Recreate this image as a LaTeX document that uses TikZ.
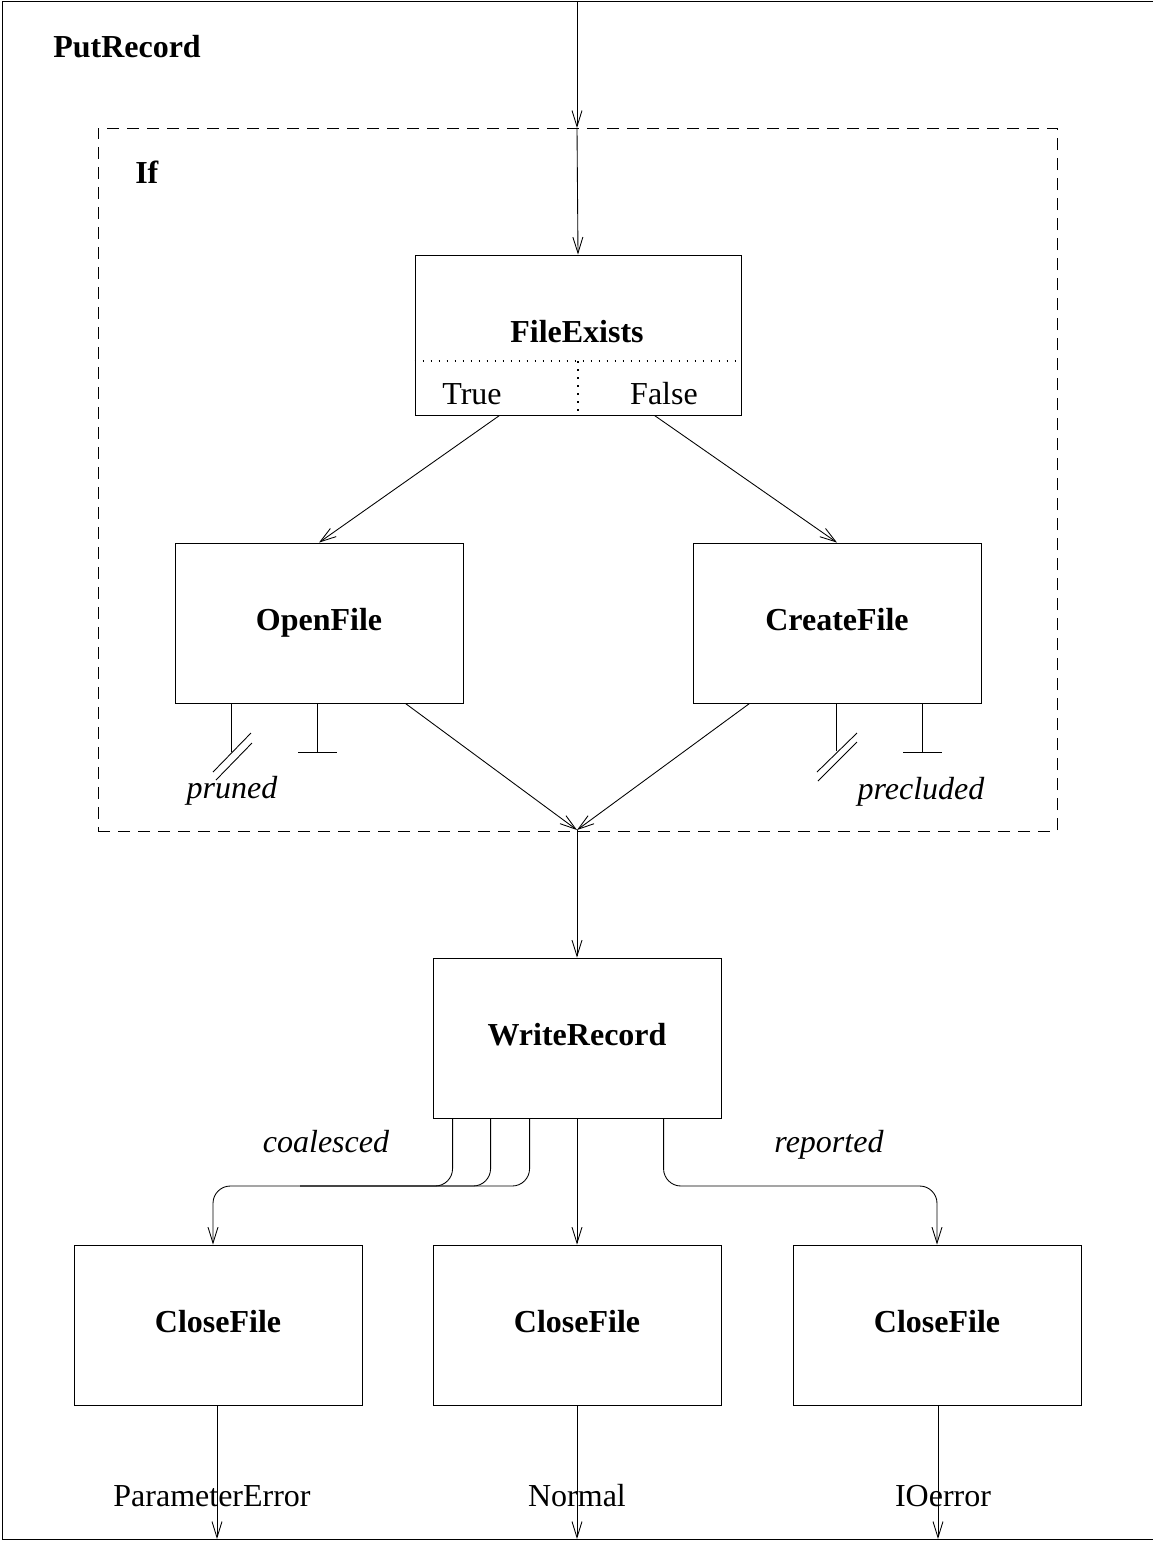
\documentclass[tikz,border=0pt]{standalone}
\usepackage{fontspec}
\setmainfont{Liberation Serif}
\usetikzlibrary{arrows.meta,calc}
\tikzset{
  ln/.style={line width=0.65pt},
  arr/.style={ln,-{Straight Barb[length=12pt,width=7.5pt,line width=0.65pt]}},
  box/.style={ln,draw,rectangle,inner sep=0pt,minimum height=120pt,minimum width=216pt,text height=11.5pt,text depth=0pt,font=\fontsize{24}{28}\selectfont\bfseries},
  title/.style={font=\fontsize{24}{28}\selectfont\bfseries,inner sep=0pt},
  plain/.style={font=\fontsize{24}{28}\selectfont,inner sep=0pt},
  note/.style={font=\fontsize{24}{28}\selectfont\itshape,inner sep=0pt,anchor=base},
  dotline/.style={line width=1.3pt,dash pattern=on 1.3pt off 4.7pt},
  dashbox/.style={ln,draw,dash pattern=on 9pt off 6pt,inner sep=0pt,minimum width=719.25pt,minimum height=527.25pt}
}
\begin{document}
\begin{tikzpicture}[x=0.75pt,y=-0.75pt]
\useasboundingbox (0,0) rectangle (1153,1543);
% outer frame (open on the right)
\draw[ln] (1153,1) -- (2,1) -- (2,1539) -- (1153,1539);
\node[title,anchor=west] (put) at (53,47) {PutRecord};

% If region
\node[dashbox] (ifbox) at (577.5,479.5) {};
\node[title,anchor=west] (iflbl) at (135,172) {If};
\coordinate (topin) at (577,1);
\coordinate (ifin) at (577,128);
\coordinate (ifout) at (577,830);

% boxes
\node[box,minimum width=244.5pt] (fe) at (578,335) {};
\node[title] (fetxt) at (577,332) {FileExists};
\node[plain] (true) at (472,394) {True};
\node[plain] (false) at (664,394) {False};
\draw[dotline] ($(fe.west)+(0,26)$) coordinate (dl) -- ($(fe.east)+(0,26)$) coordinate (dr);
\draw[dotline] ($(fe.south)+(0,-54)$) -- (fe.south);

\node[box] (of) at (319,623) {OpenFile};
\node[box] (cr) at (837,623) {CreateFile};
\node[box] (wr) at (577,1038) {WriteRecord};
\node[box] (cf1) at (218,1325) {CloseFile};
\node[box] (cf2) at (577,1325) {CloseFile};
\node[box] (cf3) at (937,1325) {CloseFile};

% top arrows
\draw[arr] (topin) -- (ifin);
\draw[arr] (ifin) -- (fe.north);
\draw[arr] ($(fe.south west)+(85,0)$) -- (of.north);
\draw[arr] ($(fe.south east)+(-87,0)$) -- (cr.north);
\draw[arr] ($(of.south east)+(-58,0)$) -- (ifout);
\draw[arr] ($(cr.south west)+(57,0)$) -- (ifout);
\draw[arr] (ifout) -- (wr.north);

% OpenFile stubs
\draw[ln] ($(of.south west)+(57,0)$) coordinate (p1) -- ++(0,49);
\draw[ln] (213,772) -- (251,733);
\draw[ln] (216,780) -- (252,743);
\draw[ln] ($(of.south west)+(143,0)$) coordinate (p2) -- ++(0,49) coordinate (p2e);
\draw[ln] ($(p2e)+(-19.5,0)$) -- ($(p2e)+(19.5,0)$);
\node[note] (pruned) at (232,798) {pruned};

% CreateFile stubs
\draw[ln] ($(cr.south west)+(144,0)$) coordinate (c1) -- ++(0,48);
\draw[ln] (817,772) -- (857,733);
\draw[ln] (818,781) -- (857,742);
\draw[ln] ($(cr.south west)+(230,0)$) coordinate (c2) -- ++(0,49) coordinate (c2e);
\draw[ln] ($(c2e)+(-19.5,0)$) -- ($(c2e)+(19.5,0)$);
\node[note] (precl) at (921,799) {precluded};

% WriteRecord outputs
\draw[arr,rounded corners=13pt] ($(wr.south west)+(20,0)$) |- (213,1186) -- ($(cf1.north)+(-5,0)$);
\draw[ln,rounded corners=13pt] ($(wr.south west)+(58,0)$) |- (300,1186);
\draw[ln,rounded corners=13pt] ($(wr.south west)+(97,0)$) |- (300,1186);
\draw[arr] (wr.south) -- (cf2.north);
\draw[arr,rounded corners=13pt] ($(wr.south west)+(231,0)$) |- (937,1186) -- (cf3.north);
\node[note] (coal) at (326,1152) {coalesced};
\node[note] (rep) at (829,1152) {reported};

% bottom outputs
\coordinate (o1) at (217,1539);
\coordinate (o2) at (577,1539);
\coordinate (o3) at (938,1539);
\draw[arr] ($(cf1.south)+(-1,0)$) -- (o1);
\draw[arr] (cf2.south) -- (o2);
\draw[arr] ($(cf3.south)+(1,0)$) -- (o3);
\node[plain] (pe) at (212,1496) {ParameterError};
\node[plain] (nm) at (577,1496) {Normal};
\node[plain] (io) at (943,1496) {IOerror};
\end{tikzpicture}
\end{document}
